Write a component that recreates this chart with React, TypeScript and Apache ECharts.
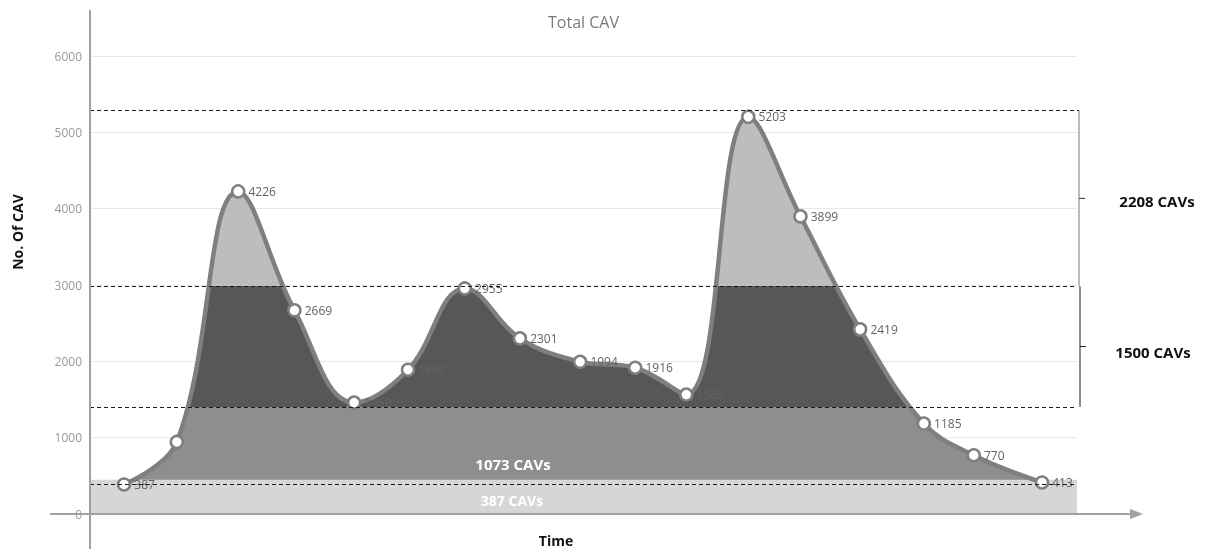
import React, { useEffect, useRef } from "react";
import * as echarts from "echarts";

// Values
const timePositions = [0, 0.92, 1.99, 2.97, 4.01, 4.95, 5.94, 6.9, 7.95, 8.91, 9.8, 10.88, 11.79, 12.83, 13.94, 14.81, 16];
const pointValues = [387, 944, 4226, 2669, 1460, 1890, 2955, 2301, 1994, 1916, 1565, 5203, 3899, 2419, 1185, 770, 413];
const labelShown = [true, false, true, true, true, true, true, true, true, true, true, true, true, true, true, true, true];
const levelLines = [391, 1404, 2983, 5286];
const baseBandTop = 450;
const bandNames = ["387 CAVs", "1073 CAVs", "1500 CAVs", "2208 CAVs"];
const yMin = 0;
const yMax = 6000;
const yInterval = 1000;
const xMin = -0.593;
const xMax = 16.61;

const FONT = "'Open Sans', 'Liberation Sans', sans-serif";

export default function App() {
  const ref = useRef<HTMLDivElement>(null);

  useEffect(() => {
    if (!ref.current) return;
    const chart = echarts.init(ref.current, undefined, { renderer: "svg" });
    const data = pointValues.map((v, i) => [timePositions[i], v]);

    chart.setOption({
      animation: false,
      textStyle: { fontFamily: FONT },
      title: {
        text: "Total CAV",
        left: 543,
        top: 9,
        textStyle: { color: "#7a7a7a", fontSize: 16, fontWeight: "normal", fontFamily: FONT },
      },
      grid: { left: 90, right: 132, top: 56, bottom: 35 },
      xAxis: {
        type: "value",
        min: xMin,
        max: xMax,
        axisLine: { show: false },
        axisTick: { show: false },
        axisLabel: { show: false },
        splitLine: { show: false },
      },
      yAxis: {
        type: "value",
        min: yMin,
        max: yMax,
        interval: yInterval,
        axisLine: { show: false },
        axisTick: { show: false },
        axisLabel: {
          color: "#999999",
          fontSize: 12,
          margin: 8,
          fontFamily: FONT,
          formatter: (v: number) => String(v),
        },
        splitLine: { lineStyle: { color: "#e8e8e8", width: 1 } },
      },
      visualMap: {
        show: false,
        type: "piecewise",
        seriesIndex: 0,
        dimension: 1,
        pieces: [
          { lt: levelLines[1], color: "#8e8e8e" },
          { gte: levelLines[1], lt: levelLines[2], color: "#575757" },
          { gte: levelLines[2], color: "#bdbdbd" },
        ],
      },
      series: [
        {
          type: "line",
          z: 2,
          data,
          smooth: 0.4,
          showSymbol: false,
          lineStyle: { width: 0, opacity: 0 },
          areaStyle: { opacity: 1 },
          silent: true,
        },
        {
          type: "line",
          z: 3,
          data: data.map((d, i) => ({
            value: d,
            label: { show: labelShown[i] },
          })),
          smooth: 0.4,
          symbol: "circle",
          symbolSize: 12,
          lineStyle: { color: "#7f7f7f", width: 4.5 },
          itemStyle: { color: "#ffffff", borderColor: "#7f7f7f", borderWidth: 2.5 },
          label: {
            show: true,
            position: "right",
            distance: 3,
            color: "#636363",
            fontSize: 12,
            fontFamily: FONT,
            formatter: (p: any) => String(p.value[1]),
          },
          markArea: {
            silent: true,
            z: 2.5,
            itemStyle: { color: "#d6d6d6", opacity: 1 },
            label: { show: false },
            data: [[{ yAxis: 0 }, { yAxis: baseBandTop }]],
          },
          markLine: {
            silent: true,
            z: 4,
            symbol: "none",
            label: { show: false },
            lineStyle: { color: "#1a1a1a", type: [4, 3], width: 1.2 },
            data: levelLines.map((v) => ({ yAxis: v })),
          },
        },
      ],
    });

    const py = (v: number) => chart.convertToPixel({ yAxisIndex: 0 }, v) as number;
    const y0 = py(0);
    const yL = levelLines.map(py);
    const bx = 1079;
    const midBase = (py(0) + py(levelLines[0])) / 2;
    const midMid = (yL[0] + yL[1]) / 2;

    chart.setOption({
      graphic: [
        { type: "line", shape: { x1: 90, y1: 10, x2: 90, y2: 549 }, style: { stroke: "#a0a0a0", lineWidth: 2 }, z: 10 },
        { type: "line", shape: { x1: 50, y1: y0, x2: 1138, y2: y0 }, style: { stroke: "#a0a0a0", lineWidth: 2 }, z: 10 },
        { type: "polygon", shape: { points: [[1130, y0 - 5], [1143, y0], [1130, y0 + 5]] }, style: { fill: "#a0a0a0" }, z: 10 },
        // upper bracket
        { type: "line", shape: { x1: bx, y1: yL[3], x2: bx, y2: yL[2] }, style: { stroke: "#a6a6a6", lineWidth: 1.5 }, z: 10 },
        { type: "line", shape: { x1: bx, y1: (yL[3] + yL[2]) / 2, x2: bx + 6, y2: (yL[3] + yL[2]) / 2 }, style: { stroke: "#333", lineWidth: 1 }, z: 10 },
        { type: "line", shape: { x1: 1077, y1: yL[3], x2: bx, y2: yL[3] }, style: { stroke: "#1a1a1a", lineWidth: 1.2 }, z: 10 },
        // lower bracket
        { type: "line", shape: { x1: bx + 1, y1: yL[2], x2: bx + 1, y2: yL[1] }, style: { stroke: "#1a1a1a", lineWidth: 1 }, z: 10 },
        { type: "line", shape: { x1: bx + 1, y1: (yL[2] + yL[1]) / 2, x2: bx + 7, y2: (yL[2] + yL[1]) / 2 }, style: { stroke: "#1a1a1a", lineWidth: 1 }, z: 10 },
        {
          type: "text", x: 1157, y: (yL[3] + yL[2]) / 2 + 3, z: 10,
          style: { text: bandNames[3], fill: "#111", font: `bold 15px ${FONT}`, textAlign: "center", textVerticalAlign: "middle" },
        },
        {
          type: "text", x: 1153, y: (yL[2] + yL[1]) / 2 + 5.5, z: 10,
          style: { text: bandNames[2], fill: "#111", font: `bold 15px ${FONT}`, textAlign: "center", textVerticalAlign: "middle" },
        },
        {
          type: "text", x: 513, y: midMid + 19, z: 10,
          style: { text: bandNames[1], fill: "#ffffff", font: `bold 15px ${FONT}`, textAlign: "center", textVerticalAlign: "middle" },
        },
        {
          type: "text", x: 512, y: midBase + 1, z: 10,
          style: { text: bandNames[0], fill: "#ffffff", font: `bold 14px ${FONT}`, textAlign: "center", textVerticalAlign: "middle" },
        },
        {
          type: "text", x: 17, y: 232, rotation: Math.PI / 2, z: 10,
          style: { text: "No. Of CAV", fill: "#111", font: `bold 14px ${FONT}`, textAlign: "center", textVerticalAlign: "middle" },
        },
        {
          type: "text", x: 556, y: 540, z: 10,
          style: { text: "Time", fill: "#111", font: `bold 14px ${FONT}`, textAlign: "center", textVerticalAlign: "middle" },
        },
      ],
    });

    return () => chart.dispose();
  }, []);

  return <div ref={ref} style={{ position: "fixed", left: 0, top: 0, width: 1209, height: 549 }} />;
}
